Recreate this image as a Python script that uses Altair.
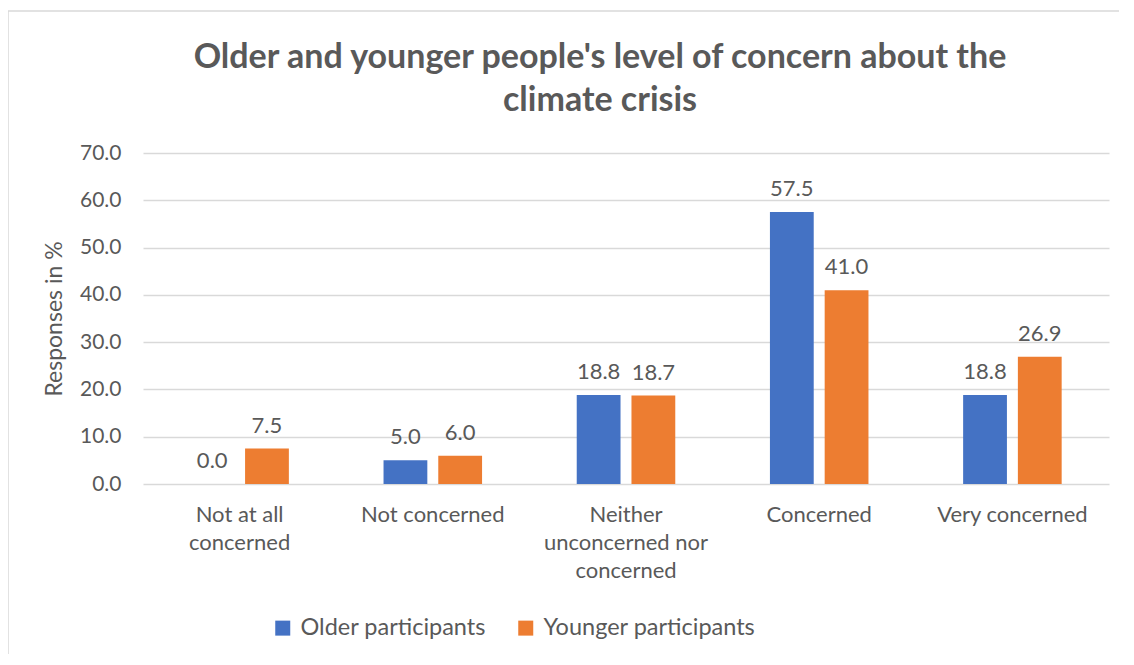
import altair as alt
import pandas as pd

categories = [
    "Not at all\nconcerned",
    "Not concerned",
    "Neither\nunconcerned nor\nconcerned",
    "Concerned",
    "Very concerned",
]
series = ["Older participants", "Younger participants"]
older = [0.0, 5.0, 18.8, 57.5, 18.8]
younger = [7.5, 6.0, 18.7, 41.0, 26.9]
colors = ["#4472C4", "#ED7D31"]
y_ticks = [0, 10, 20, 30, 40, 50, 60, 70]

rows = []
for c, o, yv in zip(categories, older, younger):
    rows.append({"category": c, "series": series[0], "value": o})
    rows.append({"category": c, "series": series[1], "value": yv})
df = pd.DataFrame(rows)

FONT = "Lato"
GRAY = "#595959"
GRID = "#D9D9D9"

base = alt.Chart(df).encode(
    x=alt.X(
        "category:N",
        sort=categories,
        scale=alt.Scale(paddingInner=0.49, paddingOuter=0.245),
        axis=alt.Axis(
            title=None,
            labelAngle=0,
            labelExpr="split(datum.label, '\\n')",
            labelFont=FONT,
            labelFontSize=22,
            labelColor=GRAY,
            labelLineHeight=28,
            labelPadding=20,
            labelLimit=0,
            ticks=False,
            domain=False,
            labelBaseline="top",
        ),
    ),
    xOffset=alt.XOffset("series:N", sort=series, scale=alt.Scale(paddingInner=0.2)),
)

bars = base.mark_bar().encode(
    y=alt.Y(
        "value:Q",
        scale=alt.Scale(domain=[0, 70]),
        axis=alt.Axis(
            title="Responses in %",
            values=y_ticks,
            format=".1f",
            labelFont=FONT,
            labelFontSize=21,
            labelColor=GRAY,
            labelPadding=22,
            ticks=False,
            domain=False,
            grid=True,
            gridColor=GRID,
            gridWidth=1.5,
            titleFont=FONT,
            titleFontSize=23,
            titleFontWeight="normal",
            titleColor=GRAY,
            titlePadding=13,
        ),
    ),
    color=alt.Color(
        "series:N",
        sort=series,
        scale=alt.Scale(domain=series, range=colors),
        legend=alt.Legend(
            title=None,
            orient="none",
            legendX=128,
            legendY=463,
            direction="horizontal",
            symbolType="square",
            symbolSize=225,
            symbolStrokeWidth=0,
            labelFont=FONT,
            labelFontSize=23.5,
            labelColor=GRAY,
            labelOffset=6,
            labelLimit=0,
            columnPadding=28,
        ),
    ),
)

labels = base.mark_text(
    baseline="bottom", dy=-11, font=FONT, fontSize=22, color=GRAY
).encode(
    y=alt.Y("value:Q"),
    text=alt.Text("value:Q", format=".1f"),
)

frame = (
    alt.Chart(pd.DataFrame({"f": [0]}))
    .mark_rect(fillOpacity=0, stroke=GRID, strokeWidth=1.5)
    .encode(
        x=alt.value(-135),
        x2=alt.value(1300),
        y=alt.value(-142),
        y2=alt.value(800),
    )
)

chart = (
    alt.layer(frame, bars, labels)
    .properties(
        width=966,
        height=331,
        autosize=alt.AutoSizeParams(type="none"),
        padding={"left": 135, "top": 145, "right": 10, "bottom": 170},
        title=alt.TitleParams(
            text=["Older and younger people's level of concern about the", "climate crisis"],
            font=FONT,
            fontSize=34,
            fontWeight="bold",
            color=GRAY,
            lineHeight=43,
            anchor="middle",
            frame="group",
            dx=-26,
            offset=0,
            dy=108,
        ),
    )
    .configure_view(stroke=None)
)

chart.save("out.html", embed_options={"renderer": "svg", "actions": False})
